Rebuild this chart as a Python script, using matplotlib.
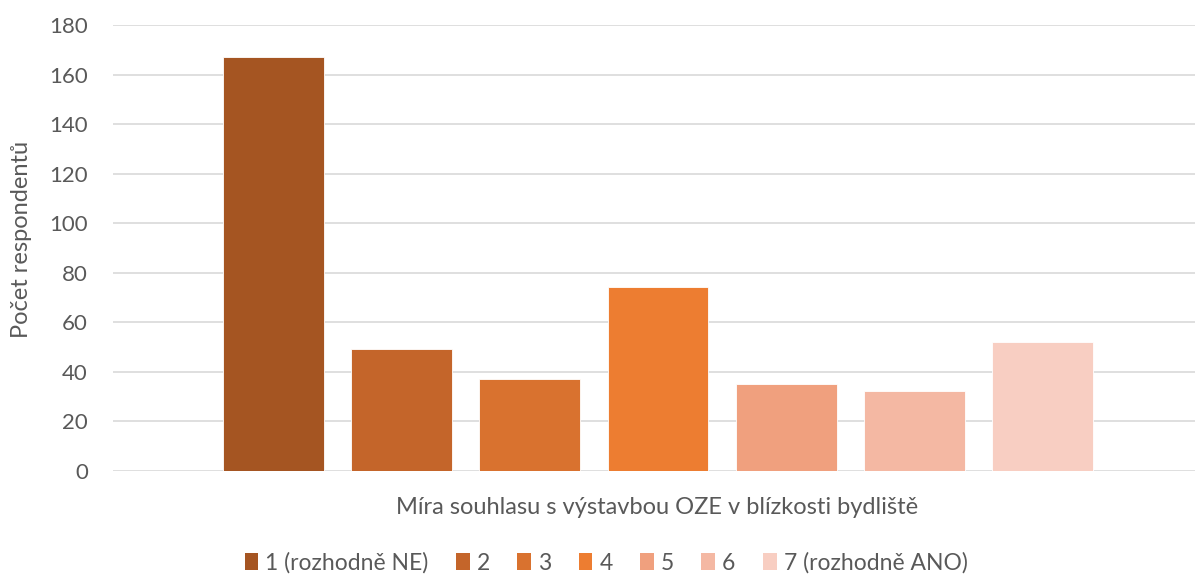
import matplotlib
matplotlib.use("Agg")
import matplotlib.pyplot as plt
from matplotlib.patches import Patch

series_labels = ["1 (rozhodně NE)", "2", "3", "4", "5", "6", "7 (rozhodně ANO)"]
values = [167, 49, 37, 74, 35, 32, 52]
colors = ["#A55522", "#C4652A", "#D9722F", "#ED7D31", "#F0A07E", "#F4B8A3", "#F8CEC2"]
x_title = "Míra souhlasu s výstavbou OZE v blízkosti bydliště"
y_title = "Počet respondentů"
yticks = [0, 20, 40, 60, 80, 100, 120, 140, 160, 180]

plt.rcParams['font.family'] = ['Lato', 'DejaVu Sans']
text_color = "#595959"

fig = plt.figure(figsize=(11.95, 5.76), dpi=100)
ax = fig.add_axes([113/1195, 1 - 470.7/576, (1203 - 113)/1195, (470.7 - 25)/576])

positions = list(range(len(values)))
for i, (v, c, lab) in enumerate(zip(values, colors, series_labels)):
    ax.bar(positions[i], v, width=0.787, color=c, edgecolor="#FFFFFF", linewidth=0.6,
           label=lab, zorder=3)

ax.set_xlim(-1.253, 7.253)
ax.set_ylim(0, 180)
ax.set_yticks(yticks)
ax.set_xticks([])
ax.yaxis.grid(True, color="#D9D9D9", linewidth=1.2, zorder=0)
ax.set_axisbelow(True)
for s in ax.spines.values():
    s.set_visible(False)
ax.tick_params(axis='y', length=0, labelsize=16, labelcolor=text_color, pad=18)

fig.text(22/1195, 1 - 239/576, y_title, rotation=90, ha='center', va='center',
         fontsize=17, color=text_color)
fig.text(657/1195, 1 - 507/576, x_title, ha='center', va='center',
         fontsize=17, color=text_color)

handles = [Patch(facecolor=c, edgecolor='none') for c in colors]
fig.legend(handles, series_labels, loc='center', bbox_to_anchor=(606/1195, 1 - 563/576),
           ncol=7, frameon=False, fontsize=16.5, handlelength=0.6, handleheight=0.75,
           handletextpad=0.3, columnspacing=1.2, labelcolor=text_color)

fig.savefig("out.png", dpi=100)
